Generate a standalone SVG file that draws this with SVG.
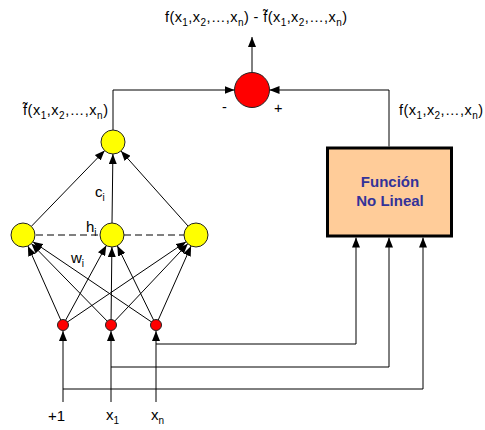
<svg xmlns="http://www.w3.org/2000/svg" width="485" height="430" viewBox="0 0 485 430">
<style>
text{font-family:"Liberation Sans",Arial,sans-serif;font-size:14.5px;fill:#000}
.s{font-size:10px}
.lab{font-size:15px}
.ln{fill:none;stroke:#000;stroke-width:1}
.ar{marker-end:url(#ah)}
.hid{fill:#FFFF00;stroke:#222;stroke-width:1}
.inp{fill:#FF0000;stroke:#222;stroke-width:1}
.box{fill:#FFCC99;stroke:#000;stroke-width:3}
.bt{font-weight:bold;fill:#333399;font-size:15px}
.dash{stroke:#000;stroke-width:1;stroke-dasharray:7,4}
</style>
<defs>
<marker id="ah" markerUnits="userSpaceOnUse" markerWidth="10" markerHeight="8" refX="10" refY="4" orient="auto">
<path d="M0,0 L10,4 L0,8 Z" fill="#000"/>
</marker>
</defs>
<g id="connectors">
<line class="ln ar" x1="63" y1="325" x2="27.9" y2="246"/>
<line class="ln ar" x1="63" y1="325" x2="106.3" y2="245.5"/>
<line class="ln ar" x1="63" y1="325" x2="186.1" y2="241.7"/>
<line class="ln ar" x1="111" y1="325" x2="31.4" y2="243.6"/>
<line class="ln ar" x1="111" y1="325" x2="111.9" y2="247"/>
<line class="ln ar" x1="111" y1="325" x2="187.8" y2="243.7"/>
<line class="ln ar" x1="156" y1="325" x2="32.9" y2="241.7"/>
<line class="ln ar" x1="156" y1="325" x2="117.3" y2="245.8"/>
<line class="ln ar" x1="156" y1="325" x2="191.1" y2="246"/>
<line class="ln ar" x1="31.3" y1="226.4" x2="104.7" y2="150.6"/>
<line class="ln ar" x1="112" y1="223" x2="112.9" y2="154"/>
<line class="ln ar" x1="188" y1="226" x2="121" y2="151"/>
<line class="dash" x1="36" y1="235" x2="100" y2="235"/>
<line class="dash" x1="124" y1="235" x2="184" y2="235"/>
<polyline class="ln ar" points="113,130 113,90 234.5,90"/>
<polyline class="ln ar" points="389,146.5 389,90 269.5,90"/>
<line class="ln ar" x1="252" y1="72.5" x2="252" y2="37"/>
<line class="ln ar" x1="63" y1="402" x2="63" y2="331"/>
<line class="ln ar" x1="111" y1="402" x2="111" y2="331"/>
<line class="ln ar" x1="156" y1="402" x2="156" y2="331"/>
<polyline class="ln ar" points="156,344 356,344 356,237.5"/>
<polyline class="ln ar" points="111,367 389,367 389,237.5"/>
<polyline class="ln ar" points="63,389 423,389 423,237.5"/>
</g>
<g id="comparator">
<circle cx="252" cy="90" r="17.5" class="inp"/>
<text x="222" y="112">-</text>
<text x="274" y="113">+</text>
</g>
<g id="output-node">
<circle cx="113" cy="142" r="12" class="hid"/>
</g>
<g id="hidden-1"><circle cx="23" cy="235" r="12" class="hid"/></g>
<g id="hidden-2"><circle cx="112" cy="235" r="12" class="hid"/></g>
<g id="hidden-3"><circle cx="196" cy="235" r="12" class="hid"/></g>
<g id="input-1"><circle cx="63" cy="325" r="5.5" class="inp"/></g>
<g id="input-2"><circle cx="111" cy="325" r="5.5" class="inp"/></g>
<g id="input-3"><circle cx="156" cy="325" r="5.5" class="inp"/></g>
<g id="nonlinear-box">
<rect x="327.5" y="148" width="124" height="88" class="box"/>
<text class="bt" x="390" y="187" text-anchor="middle">Función</text>
<text class="bt" x="390" y="206" text-anchor="middle">No Lineal</text>
</g>
<g id="labels">
<text x="165" y="22" textLength="182" lengthAdjust="spacing">f(x<tspan class="s" dy="4">1</tspan><tspan dy="-4">,x</tspan><tspan class="s" dy="4">2</tspan><tspan dy="-4">,…,x</tspan><tspan class="s" dy="4">n</tspan><tspan dy="-4">) - f̃(x</tspan><tspan class="s" dy="4">1</tspan><tspan dy="-4">,x</tspan><tspan class="s" dy="4">2</tspan><tspan dy="-4">,…,x</tspan><tspan class="s" dy="4">n</tspan><tspan dy="-4">)</tspan></text>
<text x="23" y="115" textLength="85" lengthAdjust="spacing">f̃(x<tspan class="s" dy="4">1</tspan><tspan dy="-4">,x</tspan><tspan class="s" dy="4">2</tspan><tspan dy="-4">,…,x</tspan><tspan class="s" dy="4">n</tspan><tspan dy="-4">)</tspan></text>
<text x="399" y="115" textLength="84" lengthAdjust="spacing">f(x<tspan class="s" dy="4">1</tspan><tspan dy="-4">,x</tspan><tspan class="s" dy="4">2</tspan><tspan dy="-4">,…,x</tspan><tspan class="s" dy="4">n</tspan><tspan dy="-4">)</tspan></text>
<text class="lab" x="95" y="197">c<tspan class="s" dy="4">i</tspan></text>
<text class="lab" x="86" y="232">h<tspan class="s" dy="4">i</tspan></text>
<text class="lab" x="71" y="263">w<tspan class="s" dy="4">i</tspan></text>
<text class="lab" x="48" y="421">+1</text>
<text class="lab" x="106" y="420">x<tspan class="s" dy="4">1</tspan></text>
<text class="lab" x="151" y="420">x<tspan class="s" dy="4">n</tspan></text>
</g>
</svg>
